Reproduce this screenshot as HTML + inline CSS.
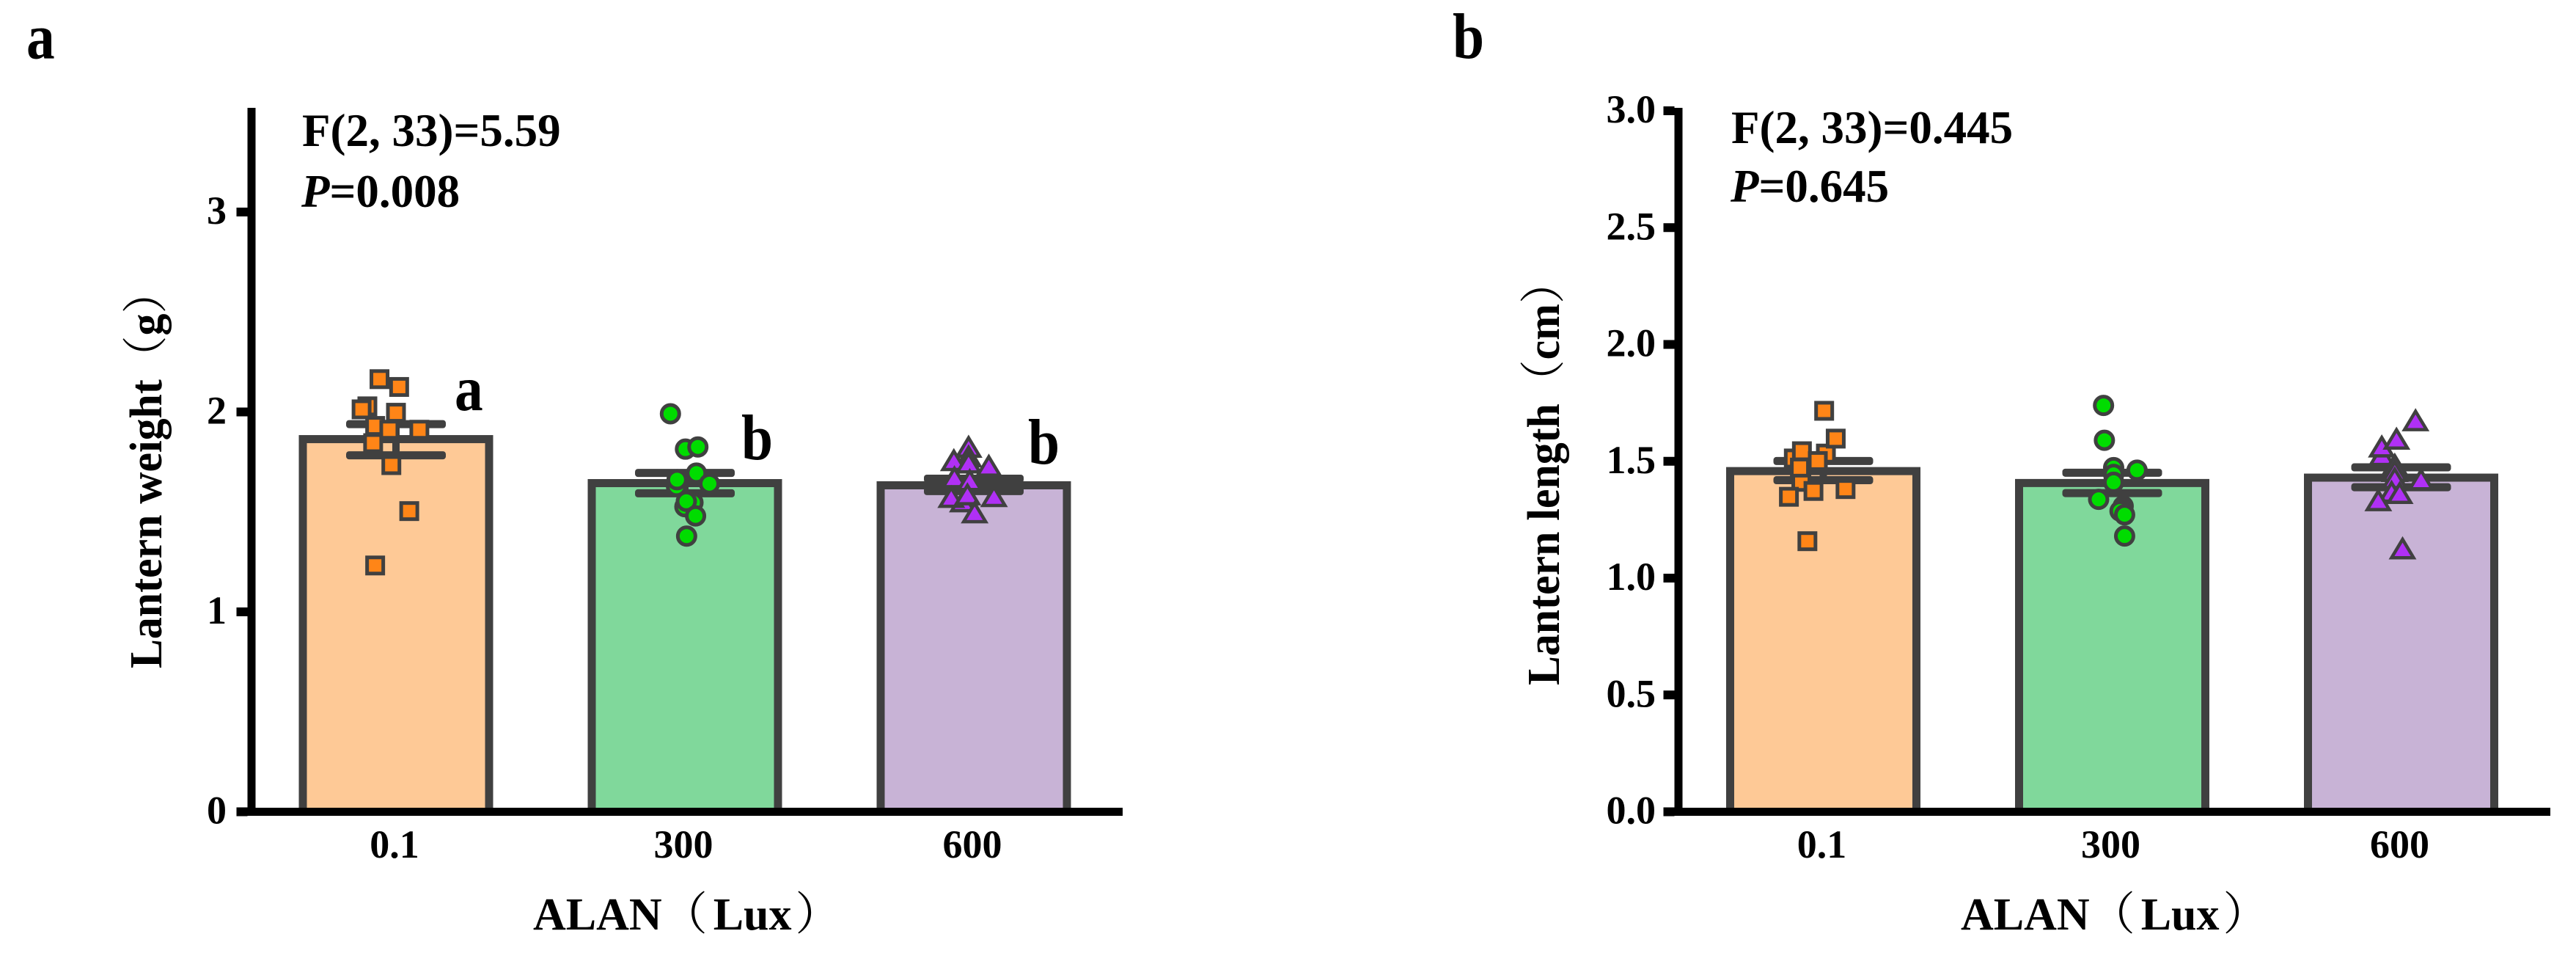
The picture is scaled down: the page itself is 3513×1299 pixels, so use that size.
<!DOCTYPE html>
<html lang="en">
<head>
<meta charset="utf-8">
<title>Lantern weight and length by ALAN</title>
<style>
html,body{margin:0;padding:0;background:#fff;}
svg{display:block;}
text{font-family:"Liberation Serif","Noto Serif CJK SC",serif;font-weight:bold;fill:#000;}
.thin{font-weight:normal;}
</style>
</head>
<body>
<svg id="figure" xmlns="http://www.w3.org/2000/svg" width="3513" height="1299" viewBox="0 0 3513 1299">
  <rect x="0" y="0" width="3513" height="1299" fill="#ffffff"/>

  <text transform="translate(36,79.5) scale(0.88,1)" font-size="88">a</text>
  <text transform="translate(1981,79) scale(0.88,1)" font-size="88">b</text>

  <g id="panel-a"></g>
  <g id="panel-b"></g>

  <text x="412" y="199" font-size="63">F(2, 33)=5.59</text>
  <text x="411" y="282" font-size="63"><tspan font-style="italic">P</tspan>=0.008</text>
  <text x="2361" y="195" font-size="63">F(2, 33)=0.445</text>
  <text x="2360" y="275" font-size="63"><tspan font-style="italic">P</tspan>=0.645</text>

  <text transform="translate(220,911) rotate(-90) scale(0.965,1)" font-size="62">Lantern weight<tspan class="thin">（</tspan>g<tspan class="thin">）</tspan></text>
  <text transform="translate(2126,934) rotate(-90) scale(0.965,1)" font-size="62">Lantern length<tspan class="thin">（</tspan>cm<tspan class="thin">）</tspan></text>
  <text x="727" y="1267" font-size="62">ALAN<tspan class="thin">（</tspan><tspan dx="8">Lux</tspan><tspan class="thin" dx="5">）</tspan></text>
  <text x="2674" y="1267" font-size="62">ALAN<tspan class="thin">（</tspan><tspan dx="8">Lux</tspan><tspan class="thin" dx="5">）</tspan></text>

  <text transform="translate(620,559) scale(0.88,1)" font-size="88">a</text>
  <text transform="translate(1011,626) scale(0.88,1)" font-size="88">b</text>
  <text transform="translate(1402,632) scale(0.88,1)" font-size="88">b</text>
</svg>

<script>
/* shared categories */
const categories = ['0.1', '300', '600'];
const groupKeys = ['low', 'mid', 'high'];

/* panel a: lantern weight (g) */
const weightTickValues = [0, 1, 2, 3];
const weightTickLabels = ['0', '1', '2', '3'];
const weightMeans = [1.864, 1.644, 1.633];
const weightErrUpper = [1.939, 1.695, 1.666];
const weightErrLower = [1.783, 1.593, 1.604];
const weightValuesLow = [2.164, 2.125, 2.028, 2.013, 1.996, 1.930, 1.911, 1.911, 1.844, 1.734, 1.504, 1.232];
const weightJitterLow = [-0.057, 0.011, -0.099, -0.119, 0, -0.072, -0.023, 0.081, -0.079, -0.016, 0.046, -0.072];
const weightValuesMid = [1.991, 1.814, 1.825, 1.694, 1.628, 1.661, 1.641, 1.547, 1.526, 1.553, 1.480, 1.379];
const weightJitterMid = [-0.05, 0.002, 0.045, 0.04, -0.029, -0.027, 0.085, 0.028, 0, 0.005, 0.037, 0.006];
const weightValuesHigh = [1.823, 1.775, 1.756, 1.744, 1.728, 1.670, 1.656, 1.550, 1.572, 1.585, 1.576, 1.495];
const weightJitterHigh = [-0.018, -0.018, -0.069, -0.018, 0.052, -0.067, -0.014, -0.038, -0.078, -0.022, 0.070, 0.003];

/* panel b: lantern length (cm) */
const lengthTickValues = [0, 0.5, 1, 1.5, 2, 2.5, 3];
const lengthTickLabels = ['0.0', '0.5', '1.0', '1.5', '2.0', '2.5', '3.0'];
const lengthMeans = [1.458, 1.407, 1.430];
const lengthErrUpper = [1.501, 1.451, 1.474];
const lengthErrLower = [1.419, 1.364, 1.389];
const lengthValuesLow = [1.716, 1.533, 1.512, 1.412, 1.597, 1.543, 1.501, 1.473, 1.373, 1.381, 1.348, 1.158];
const lengthJitterLow = [0.003, 0.009, -0.102, -0.076, 0.043, -0.074, -0.019, -0.081, -0.034, 0.077, -0.119, -0.055];
const lengthValuesMid = [1.739, 1.590, 1.473, 1.462, 1.444, 1.410, 1.337, 1.308, 1.297, 1.287, 1.271, 1.180];
const lengthJitterMid = [-0.03, -0.027, 0.005, 0.086, 0.005, 0.005, -0.047, 0.038, 0.035, 0.027, 0.043, 0.043];
const lengthValuesHigh = [1.673, 1.524, 1.561, 1.594, 1.483, 1.456, 1.425, 1.420, 1.367, 1.362, 1.331, 1.125];
const lengthJitterHigh = [0.05, -0.067, -0.067, -0.016, -0.022, -0.022, -0.022, 0.069, -0.033, -0.005, -0.079, 0.005];

const NS = 'http://www.w3.org/2000/svg';
const BAND = 394;
const BAR_HALF = 127;
const CAP_HALF = 68;
const EDGE = '#404040';
const barFills = ['#FEC996', '#80D89B', '#C8B3D6'];
const markerFills = ['#FF8517', '#00DC00', '#B030F5'];

function make(tag, attrs, parent) {
  const node = document.createElementNS(NS, tag);
  Object.keys(attrs).forEach(function (k) { node.setAttribute(k, attrs[k]); });
  parent.appendChild(node);
  return node;
}

function drawMarker(kind, px, py, parent) {
  if (kind === 0) {
    return make('rect', {x: px - 11, y: py - 11, width: 22, height: 22, fill: markerFills[0], stroke: EDGE, 'stroke-width': 5}, parent);
  }
  if (kind === 1) {
    return make('circle', {cx: px, cy: py, r: 12, fill: markerFills[1], stroke: EDGE, 'stroke-width': 5}, parent);
  }
  return make('path', {d: 'M' + px + ',' + (py - 13) + 'L' + (px + 15) + ',' + (py + 12) + 'L' + (px - 15) + ',' + (py + 12) + 'Z', fill: markerFills[2], stroke: EDGE, 'stroke-width': 4.5}, parent);
}

function drawPanel(cfg) {
  const root = document.getElementById(cfg.id);
  const yPos = function (v) { return cfg.zeroY - v * cfg.unit; };
  const xPos = function (i) { return cfg.firstX + i * BAND; };
  const xJit = function (i, j) { return xPos(i) + j * BAND; };

  categories.forEach(function (cat, i) {
    const cx = xPos(i);
    const bar = make('rect', {x: cx - BAR_HALF, y: yPos(cfg.means[i]), width: BAR_HALF * 2, height: yPos(0) - yPos(cfg.means[i]), fill: barFills[i], stroke: EDGE, 'stroke-width': 11}, root);
    
    
  });

  categories.forEach(function (cat, i) {
    const cx = xPos(i);
    const stem = make('rect', {x: cx - 5, y: yPos(cfg.upper[i]), width: 10, height: yPos(cfg.lower[i]) - yPos(cfg.upper[i]), fill: EDGE}, root);
    
    
    const capTop = make('rect', {x: cx - CAP_HALF, y: yPos(cfg.upper[i]) - 5.5, width: CAP_HALF * 2, height: 11, rx: 4, fill: EDGE}, root);
    
    
    const capLow = make('rect', {x: cx - CAP_HALF, y: yPos(cfg.lower[i]) - 5.5, width: CAP_HALF * 2, height: 11, rx: 4, fill: EDGE}, root);
    
    
  });

  groupKeys.forEach(function (key, g) {
    cfg.points[g].forEach(function (v, k) {
      const mark = drawMarker(g, xJit(g, cfg.jitter[g][k]), yPos(v), root);
      
      
    });
  });

  const yAxis = make('rect', {x: cfg.axisX, y: 147, width: 11, height: cfg.zeroY + 5.5 - 147, fill: '#000'}, root);
  
  
  const xAxis = make('rect', {x: cfg.axisX - 15, y: cfg.zeroY - 5.5, width: cfg.axisEnd - cfg.axisX + 15, height: 11, fill: '#000'}, root);
  
  

  cfg.tickValues.forEach(function (v, t) {
    const tick = make('rect', {x: cfg.axisX - 15, y: yPos(v) - 6, width: 15, height: 12, fill: '#000'}, root);
    
    
    const label = make('text', {x: cfg.labelX, y: yPos(v) + 16, 'font-size': 54, 'text-anchor': 'end'}, root);
    label.textContent = cfg.tickLabels[t];
    
    
  });

  categories.forEach(function (cat, i) {
    const label = make('text', {x: xPos(i) - 2, y: 1169, 'font-size': 54, 'text-anchor': 'middle'}, root);
    label.textContent = cat;
    
    
  });
}

drawPanel({
  id: 'panel-a', zeroY: 1106.5, unit: 272.5, firstX: 540, axisX: 337.5, axisEnd: 1531, labelX: 309,
  means: weightMeans, upper: weightErrUpper, lower: weightErrLower,
  points: [weightValuesLow, weightValuesMid, weightValuesHigh],
  jitter: [weightJitterLow, weightJitterMid, weightJitterHigh],
  tickValues: weightTickValues, tickLabels: weightTickLabels
});

drawPanel({
  id: 'panel-b', zeroY: 1106.5, unit: 318.5, firstX: 2486.5, axisX: 2283.5, axisEnd: 3478, labelX: 2258,
  means: lengthMeans, upper: lengthErrUpper, lower: lengthErrLower,
  points: [lengthValuesLow, lengthValuesMid, lengthValuesHigh],
  jitter: [lengthJitterLow, lengthJitterMid, lengthJitterHigh],
  tickValues: lengthTickValues, tickLabels: lengthTickLabels
});
</script>
</body>
</html>
